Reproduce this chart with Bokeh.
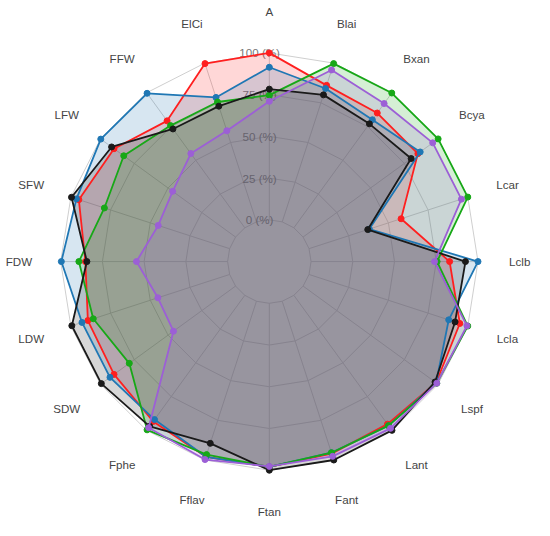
import math
from bokeh.plotting import figure
from bokeh.models import Range1d
from bokeh.core.properties import value
from bokeh.embed import file_html
from bokeh.resources import INLINE

axes_labels = ["A", "Blai", "Bxan", "Bcya", "Lcar", "Lclb", "Lcla", "Lspf", "Lant", "Fant",
               "Ftan", "Fflav", "Fphe", "SDW", "LDW", "FDW", "SFW", "LFW", "FFW", "ElCi"]

red_vals = [100, 86, 85, 85, 58, 83, 95, 98.5, 95.4, 96, 98, 98, 93.4, 90, 89.3, 85.2, 95, 90, 79.2, 99.7]
blue_vals = [91.4, 84, 80, 86.7, 38, 100, 88, 98.5, 96.5, 95.4, 98, 98, 92, 93, 93, 99.6, 96.5, 99.8, 99.6, 78.4]
green_vals = [74.7, 99.7, 99.8, 100, 100, 75.5, 100, 99, 96.5, 95.4, 98, 96.6, 99.6, 78.7, 85.9, 89.1, 78.9, 82.8, 75.7, 75.5]
black_vals = [78.3, 80, 77, 80, 37, 92.5, 92, 97.7, 100, 100, 100, 89.5, 97, 99.4, 99.4, 84.3, 99.6, 91.8, 73.2, 72.9]
purple_vals = [71, 95.7, 92, 96, 96, 74, 99.5, 99, 98.5, 97.7, 97.7, 99.7, 98, 46, 45.2, 54.6, 45, 46.6, 55, 57.4]

tick_values = [0, 25, 50, 75, 100]
tick_labels = ["0 (%)", "25 (%)", "50 (%)", "75 (%)", "100 (%)"]

series = [
    (red_vals, "#ff1f1f"),
    (blue_vals, "#1f77b4"),
    (green_vals, "#17a817"),
    (black_vals, "#1a1a1a"),
    (purple_vals, "#9c5fd6"),
]

S = 0.9705          # overall scale so the chart fits 534x520
R_MIN = -25.0       # value at the centre
PX = 1.72 * S       # pixels per unit
W, H = 534, 520
CX, CY = 277 * S, 269 * S  # centre in pixels from top-left

n = len(axes_labels)
angles = [math.pi / 2 - 2 * math.pi * i / n for i in range(n)]


def rad(v):
    return v - R_MIN


def pt(v, a):
    r = rad(v)
    return r * math.cos(a), r * math.sin(a)


p = figure(width=W, height=H, output_backend="svg", toolbar_location=None,
           min_border=0, x_range=Range1d(-CX / PX, (W - CX) / PX),
           y_range=Range1d(-(H - CY) / PX, CY / PX))
p.axis.visible = False
p.grid.visible = False
p.outline_line_color = None
p.background_fill_color = "white"

grid_color = "#cfcfcf"
# rings
for tv in tick_values:
    xs = [pt(tv, a)[0] for a in angles] + [pt(tv, angles[0])[0]]
    ys = [pt(tv, a)[1] for a in angles] + [pt(tv, angles[0])[1]]
    p.line(xs, ys, line_color=grid_color, line_width=1)
# spokes
for a in angles:
    x0, y0 = pt(tick_values[0], a)
    x1, y1 = pt(tick_values[-1], a)
    p.line([x0, x1], [y0, y1], line_color=grid_color, line_width=1)

# tick labels
tx = [-10 * S / PX] * len(tick_values)
ty = [rad(tv) for tv in tick_values]
p.text(x=tx, y=ty, text=tick_labels, text_align="center", text_baseline="middle",
       text_font=value("Liberation Sans"), text_font_size="11.6px", text_color="#777777")

# data
for vals, col in series:
    xs = [pt(v, a)[0] for v, a in zip(vals, angles)]
    ys = [pt(v, a)[1] for v, a in zip(vals, angles)]
    p.patch(xs, ys, fill_color=col, fill_alpha=0.18, line_color=None)
for vals, col in series:
    xs = [pt(v, a)[0] for v, a in zip(vals, angles)]
    ys = [pt(v, a)[1] for v, a in zip(vals, angles)]
    p.line(xs + [xs[0]], ys + [ys[0]], line_color=col, line_width=1.8)
    p.scatter(xs, ys, size=6, fill_color=col, line_color=col)

# axis labels
LR = 258 * S / PX
lx = [LR * math.cos(a) for a in angles]
ly = [LR * math.sin(a) for a in angles]
p.text(x=lx, y=ly, text=axes_labels, text_align="center", text_baseline="middle",
       text_font=value("Liberation Sans"), text_font_size="11.6px", text_color="#444444")

open("out.html", "w").write(file_html(p, INLINE))
